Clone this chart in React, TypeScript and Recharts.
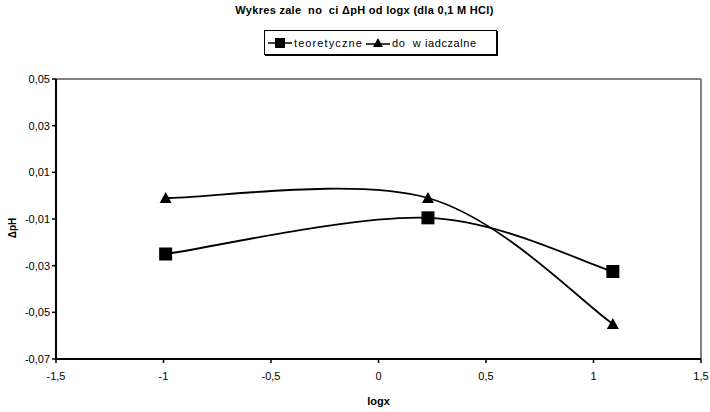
import { LineChart, Line, XAxis, YAxis, ReferenceLine, Label } from 'recharts'

const logx = [-0.99, 0.23, 1.09]
const teoretyczne = [-0.025, -0.0095, -0.0325]
const doswiadczalne = [-0.001, -0.001, -0.055]

const xTicks = [-1.5, -1, -0.5, 0, 0.5, 1, 1.5]
const yTicks = [-0.07, -0.05, -0.03, -0.01, 0.01, 0.03, 0.05]

const title = 'Wykres zale  no  ci \u0394pH od logx (dla 0,1 M HCl)'
const seriesNames = ['teoretyczne', 'do  w iadczalne']

const data = logx.map((x, i) => ({ x, t: teoretyczne[i], d: doswiadczalne[i] }))

const font = '"Liberation Sans", Arial, sans-serif'
const fmt = (v: number) => String(v).replace('.', ',')

// Excel-like smoothed line (Catmull-Rom through the points as cubic beziers)
const excelCurve = (context: any) => {
  let pts: number[][] = []
  return {
    areaStart() {},
    areaEnd() {},
    lineStart() { pts = [] },
    point(x: number, y: number) { pts.push([x, y]) },
    lineEnd() {
      if (!pts.length) return
      context.moveTo(pts[0][0], pts[0][1])
      for (let i = 0; i < pts.length - 1; i++) {
        const p0 = pts[Math.max(i - 1, 0)]
        const p1 = pts[i]
        const p2 = pts[i + 1]
        const p3 = pts[Math.min(i + 2, pts.length - 1)]
        context.bezierCurveTo(
          p1[0] + (p2[0] - p0[0]) / 6, p1[1] + (p2[1] - p0[1]) / 6,
          p2[0] - (p3[0] - p1[0]) / 6, p2[1] - (p3[1] - p1[1]) / 6,
          p2[0], p2[1],
        )
      }
    },
  }
}

const Square = (p: any) => {
  if (p.cx == null || p.cy == null) return null
  return <rect key={p.key} x={p.cx - 6.5} y={p.cy - 6.5} width={13} height={13} fill="#000" />
}

const Triangle = (p: any) => {
  if (p.cx == null || p.cy == null) return null
  const { cx, cy } = p
  return <path key={p.key} d={`M${cx},${cy - 6} L${cx + 6},${cy + 5} L${cx - 6},${cy + 5} Z`} fill="#000" />
}

export default function App() {
  return (
    <div style={{ position: 'absolute', top: 0, left: 0, width: 710, height: 412, fontFamily: font, background: '#fff', overflow: 'hidden' }}>
      <div style={{ position: 'absolute', top: 4, left: 0, width: 729, textAlign: 'center', fontSize: 11, lineHeight: '13px', fontWeight: 'bold', letterSpacing: 0.3, whiteSpace: 'pre' }}>
        {title}
      </div>
      <div style={{
        position: 'absolute', left: 264, top: 30, width: 231, height: 23, border: '1px solid #000',
        boxShadow: '1px 1px 0 #000', display: 'flex', alignItems: 'center', fontSize: 11, whiteSpace: 'pre',
      }}>
        <svg width={24} height={12} style={{ marginLeft: 3 }}>
          <line x1={0} y1={6} x2={24} y2={6} stroke="#000" strokeWidth={1.5} />
          <rect x={7} y={1} width={10} height={10} fill="#000" />
        </svg>
        <span style={{ marginLeft: 2, letterSpacing: 1.1 }}>{seriesNames[0]}</span>
        <svg width={24} height={12} style={{ marginLeft: 3 }}>
          <line x1={0} y1={7} x2={24} y2={7} stroke="#000" strokeWidth={1.5} />
          <path d="M12,1 L17,10 L7,10 Z" fill="#000" />
        </svg>
        <span style={{ marginLeft: 2, letterSpacing: 0.6 }}>{seriesNames[1]}</span>
      </div>
      <div style={{
        position: 'absolute', left: -2, top: 222, fontSize: 10, lineHeight: '12px', fontWeight: 'bold',
        transform: 'rotate(-90deg)', transformOrigin: 'center', width: 30, textAlign: 'center',
      }}>
        {'\u0394pH'}
      </div>
      <LineChart width={710} height={412} data={data} margin={{ top: 79, right: 9, bottom: 23, left: 10 }}>
        <XAxis
          dataKey="x"
          type="number"
          domain={[-1.5, 1.5]}
          ticks={xTicks}
          tickFormatter={fmt}
          tick={{ fill: '#000', fontSize: 11, fontFamily: font }}
          tickSize={4}
          tickMargin={9}
          height={30}
          stroke="#000"
          strokeWidth={2}
          tickLine={{ stroke: '#000', strokeWidth: 1.5 }}
          allowDataOverflow
        >
          <Label value="logx" position="insideBottom" offset={-16} style={{ fontSize: 11, fontWeight: 'bold', fill: '#000', fontFamily: font }} />
        </XAxis>
        <YAxis
          type="number"
          domain={[-0.07, 0.05]}
          ticks={yTicks}
          tickFormatter={fmt}
          tick={{ fill: '#000', fontSize: 11, fontFamily: font }}
          tickSize={4}
          tickMargin={2}
          width={46}
          stroke="#000"
          strokeWidth={2}
          tickLine={{ stroke: '#000', strokeWidth: 1.5 }}
          allowDataOverflow
        />
        <ReferenceLine y={0.05} stroke="#808080" strokeWidth={2} />
        <ReferenceLine x={1.5} stroke="#808080" strokeWidth={2} />
        <Line dataKey="t" type={excelCurve as any} stroke="#000" strokeWidth={1.8} dot={Square} activeDot={false} isAnimationActive={false} />
        <Line dataKey="d" type={excelCurve as any} stroke="#000" strokeWidth={1.8} dot={Triangle} activeDot={false} isAnimationActive={false} />
      </LineChart>
    </div>
  )
}
